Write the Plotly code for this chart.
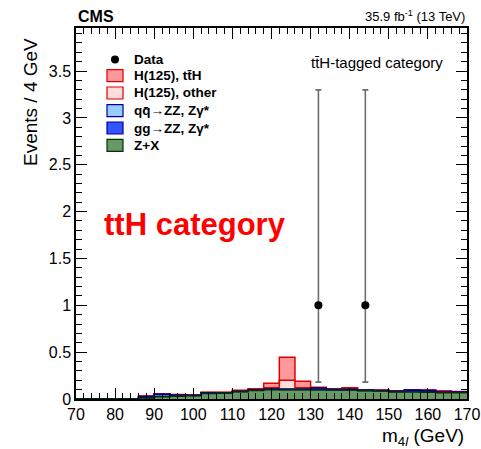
import plotly.graph_objects as go

# ---------------- data ----------------
bin_lows = [70, 74, 78, 82, 86, 90, 94, 98, 102, 106, 110, 114, 118, 122, 126,
            130, 134, 138, 142, 146, 150, 154, 158, 162, 166]
bin_width = 4

zx = [0, 0, 0, 0, 0.012, 0.025, 0.030, 0.034, 0.060, 0.063, 0.078, 0.092, 0.100,
      0.100, 0.100, 0.097, 0.096, 0.096, 0.088, 0.086, 0.076, 0.075, 0.072, 0.068, 0.068]
gg_zz = [0, 0, 0, 0, 0.005, 0.004, 0.004, 0.003, 0.003, 0.002, 0.002, 0.002, 0.003,
         0.002, 0.002, 0.010, 0.003, 0.003, 0.003, 0.002, 0.004, 0.012, 0.010, 0.004, 0.003]
qq_zz = [0, 0, 0, 0, 0.010, 0.022, 0.008, 0.004, 0.004, 0.002, 0.003, 0.002, 0.004,
         0.004, 0.004, 0.010, 0.004, 0.004, 0.004, 0.003, 0.004, 0.008, 0.008, 0.004, 0.003]
h_other = [0, 0, 0, 0, 0.002, 0.004, 0.003, 0.002, 0.003, 0.002, 0.005, 0.006, 0.013,
           0.094, 0.015, 0.004, 0.004, 0.010, 0.003, 0.003, 0.003, 0.003, 0.004, 0.006, 0.003]
h_tth = [0, 0, 0, 0, 0.003, 0.002, 0.002, 0.001, 0.002, 0.002, 0.005, 0.008, 0.047,
         0.246, 0.069, 0.004, 0.003, 0.007, 0.002, 0.002, 0.002, 0.002, 0.002, 0.004, 0.002]

data_x = [132, 144]
data_y = [1, 1]
data_err_up = [2.30, 2.30]
data_err_dn = [0.82, 0.82]

x_ticks = [70, 80, 90, 100, 110, 120, 130, 140, 150, 160, 170]
y_ticks = [0, 0.5, 1, 1.5, 2, 2.5, 3, 3.5]

# component definitions: (values, fill, line, legend label), bottom -> top
components = [
    (zx, "#669966", "#003300", "Z+X"),
    (gg_zz, "#3355ff", "#000099", "gg\u2192ZZ, Z\u03b3*"),
    (qq_zz, "#99ccff", "#000099", "qq\u0304\u2192ZZ, Z\u03b3*"),
    (h_other, "#ffdddd", "#dd0000", "H(125), other"),
    (h_tth, "#ff9999", "#dd0000", "H(125), tt\u0304H"),
]

FONT = "Liberation Sans, Arial, Helvetica, sans-serif"

centers = [lo + bin_width / 2 for lo in bin_lows]
edges = bin_lows + [bin_lows[-1] + bin_width]

fig = go.Figure()

# stacked fills
for vals, fill, line, name in components:
    fig.add_trace(go.Bar(x=centers, y=vals, width=bin_width, marker=dict(color=fill, line=dict(width=0)),
                         name=name, showlegend=False, hoverinfo="skip"))

# cumulative outlines, drawn top-first so lower outlines overlay
cums = []
run = [0.0] * len(bin_lows)
for vals, fill, line, name in components:
    run = [a + b for a, b in zip(run, vals)]
    cums.append((list(run), line))
for cum, line in reversed(cums):
    fig.add_trace(go.Scatter(x=edges, y=cum + [cum[-1]], mode="lines", line=dict(color=line, width=1.5, shape="hv"),
                             showlegend=False, hoverinfo="skip"))

# data
fig.add_trace(go.Scatter(
    x=data_x, y=data_y, mode="markers",
    marker=dict(color="black", size=8),
    error_y=dict(type="data", symmetric=False, array=data_err_up, arrayminus=data_err_dn,
                 color="#6e6e6e", thickness=1.6, width=3),
    name="Data", showlegend=False))

# ---------------- layout ----------------
L, R, T, B = 76, 14, 28, 50
W, H = 481, 449
pw, ph = W - L - R, H - T - B


def px(xp):
    return (xp - L) / pw


def py(yp):
    return (H - B - yp) / ph


axis_common = dict(showline=True, linecolor="black", linewidth=1.5, mirror="ticks", ticks="inside",
                   tickcolor="black", tickwidth=1.2, ticklen=11, showgrid=False, zeroline=False,
                   automargin=False,
                   tickfont=dict(family=FONT, size=16, color="black"), layer="above traces")

fig.update_layout(
    width=W, height=H, margin=dict(l=L, r=R, t=T, b=B, autoexpand=False),
    paper_bgcolor="white", plot_bgcolor="white",
    barmode="stack", bargap=0, showlegend=False,
    xaxis=dict(range=[70, 170], tickvals=x_ticks, ticktext=[str(v) for v in x_ticks],
               minor=dict(dtick=2, tick0=70, ticks="inside", ticklen=6, tickcolor="black", tickwidth=1.2, showgrid=False),
               **axis_common),
    yaxis=dict(range=[0, 3.96], tickvals=y_ticks, ticktext=["0", "0.5", "1", "1.5", "2", "2.5", "3", "3.5"],
               minor=dict(dtick=0.1, tick0=0, ticks="inside", ticklen=6, tickcolor="black", tickwidth=1.2, showgrid=False),
               **axis_common),
    font=dict(family=FONT, color="black"),
)

ann = []
# CMS & lumi
ann.append(dict(text="<b>CMS</b>", x=px(76), y=py(16), xref="paper", yref="paper", xanchor="left", yanchor="middle",
                showarrow=False, font=dict(family=FONT, size=16, color="black")))
ann.append(dict(text="35.9 fb<sup>-1</sup> (13 TeV)", x=px(467), y=py(16), xref="paper", yref="paper",
                xanchor="right", yanchor="middle", showarrow=False, font=dict(family=FONT, size=13, color="black")))
# category label
ann.append(dict(text="tt\u0304H-tagged category", x=px(445), y=py(62), xref="paper", yref="paper", xanchor="right",
                yanchor="middle", showarrow=False, font=dict(family=FONT, size=15, color="black")))
ann.append(dict(text="<b>ttH category</b>", x=px(102), y=py(224), xref="paper", yref="paper", xanchor="left",
                yanchor="middle", showarrow=False, font=dict(family=FONT, size=31, color="#ff0000")))
# axis titles
ann.append(dict(text="Events / 4 GeV", x=px(30), y=py(36), xref="paper", yref="paper", xanchor="center",
                yanchor="top", textangle=-90, showarrow=False, font=dict(family=FONT, size=19, color="black")))
ann.append(dict(text="m<sub>4<i>l</i></sub> (GeV)", x=px(466), y=py(437), xref="paper", yref="paper",
                xanchor="right", yanchor="middle", showarrow=False, font=dict(family=FONT, size=19, color="black")))

# manual legend (ROOT style)
shapes = []
leg_y = [59.5, 75.7, 93, 110.7, 128, 145.3]
leg_labels = ["Data"] + [c[3] for c in reversed(components)]
leg_styles = [None] + [(c[1], c[2]) for c in reversed(components)]
for yc, lab, st in zip(leg_y, leg_labels, leg_styles):
    if st is None:
        shapes.append(dict(type="circle", xref="paper", yref="paper", x0=px(111), x1=px(119), y0=py(yc + 4),
                           y1=py(yc - 4), fillcolor="black", line=dict(width=0)))
    else:
        shapes.append(dict(type="rect", xref="paper", yref="paper", x0=px(107), x1=px(123), y0=py(yc + 6),
                           y1=py(yc - 6), fillcolor=st[0], line=dict(color=st[1], width=1.2)))
    ann.append(dict(text="<b>" + lab + "</b>", x=px(132), y=py(yc), xref="paper", yref="paper", xanchor="left",
                    yanchor="middle", showarrow=False, font=dict(family=FONT, size=13.5, color="black")))

fig.update_layout(annotations=ann, shapes=shapes)

fig.write_html("out.html")
